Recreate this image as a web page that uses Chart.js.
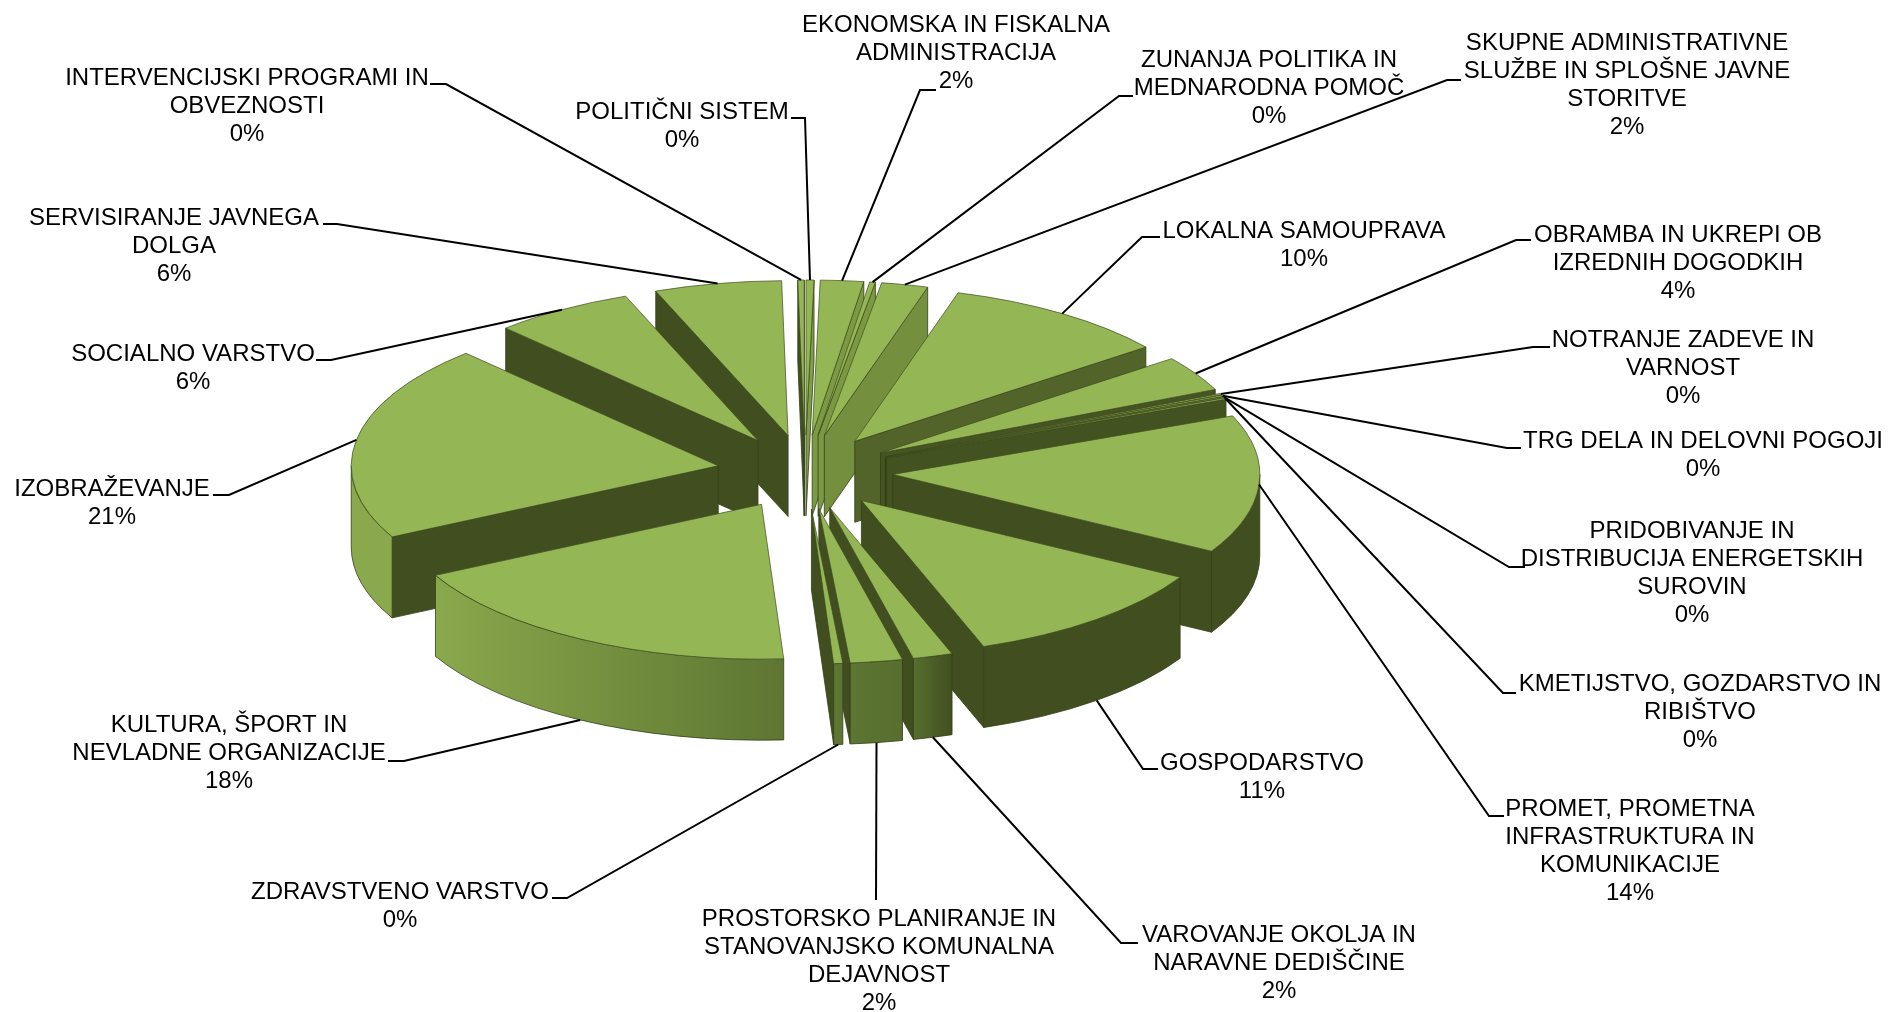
<!DOCTYPE html>
<html>
<head>
<meta charset="utf-8">
<title>Pie</title>
<script src="https://cdn.jsdelivr.net/npm/chart.js@4"></script>
<style>
  body { margin: 0; background: #fff; }
  canvas { display: block; }
</style>
</head>
<body>
<canvas id="myChart" width="1890" height="1012"></canvas>
<script>
// clockwise from 12 o'clock
const categories = [
    ["POLITIČNI SISTEM"],
    ["EKONOMSKA IN FISKALNA", "ADMINISTRACIJA"],
    ["ZUNANJA POLITIKA IN", "MEDNARODNA POMOČ"],
    ["SKUPNE ADMINISTRATIVNE", "SLUŽBE IN SPLOŠNE JAVNE", "STORITVE"],
    ["LOKALNA SAMOUPRAVA"],
    ["OBRAMBA IN UKREPI OB", "IZREDNIH DOGODKIH"],
    ["NOTRANJE ZADEVE IN", "VARNOST"],
    ["TRG DELA IN DELOVNI POGOJI"],
    ["PRIDOBIVANJE IN", "DISTRIBUCIJA ENERGETSKIH", "SUROVIN"],
    ["KMETIJSTVO, GOZDARSTVO IN", "RIBIŠTVO"],
    ["PROMET, PROMETNA", "INFRASTRUKTURA IN", "KOMUNIKACIJE"],
    ["GOSPODARSTVO"],
    ["VAROVANJE OKOLJA IN", "NARAVNE DEDIŠČINE"],
    ["PROSTORSKO PLANIRANJE IN", "STANOVANJSKO KOMUNALNA", "DEJAVNOST"],
    ["ZDRAVSTVENO VARSTVO"],
    ["KULTURA, ŠPORT IN", "NEVLADNE ORGANIZACIJE"],
    ["IZOBRAŽEVANJE"],
    ["SOCIALNO VARSTVO"],
    ["SERVISIRANJE JAVNEGA", "DOLGA"],
    ["INTERVENCIJSKI PROGRAMI IN", "OBVEZNOSTI"]
];
const values = [0.35, 1.9, 0.25, 2.05, 10.05, 3.7, 0.15, 0.15, 0.1, 0.15, 14.45, 11.35, 1.75, 2.3, 0.4, 18.4, 20.55, 6.2, 5.6, 0.28];

// label placement: text centre x, first line y, stub end at the text, elbow x, stub y
const labelBoxes = [
    [682, 111, 791, 805, 118],
    [956, 24, 936, 920, 90],
    [1269, 59, 1133, 1119, 96],
    [1627, 42, 1461, 1447, 80],
    [1304, 230, 1160, 1142, 237],
    [1678, 234, 1531, 1516, 240],
    [1683, 339, 1550, 1533, 347],
    [1703, 440, 1521, 1507, 448],
    [1692, 530, 1525, 1509, 567],
    [1700, 683, 1516, 1503, 693],
    [1630, 808, 1504, 1489, 816],
    [1262, 762, 1158, 1143, 769],
    [1279, 934, 1138, 1121, 943],
    [879, 918, 876, 876, 900],
    [400, 891, 552, 567, 898],
    [229, 724, 388, 404, 761],
    [112, 488, 213, 229, 495],
    [193, 353, 316, 331, 360],
    [174, 217, 323, 337, 224],
    [247, 77, 430, 446, 84]
];

const SQUASH = 0.422;
const DEPTH = 81;
const EXPLODE = 88;
const DARK = [65, 79, 32];

function mix(a, b, t) {
    t = Math.max(0, Math.min(1, t));
    let c = a.map((v, i) => Math.round(v + (b[i] - v) * t));
    return "rgb(" + c.join(",") + ")";
}

function toClock(a) {
    let d = (a * 180 / Math.PI + 90) % 360;
    return d < 0 ? d + 360 : d;
}

// outer wall colour depending on where it sits on the rim
function rimColor(d) {
    if (d <= 161) return mix(DARK, DARK, 0);
    return mix([86, 109, 46], [138, 168, 76], (d - 165) / 78);
}

// flat side colour
function wallColor(d) {
    if (d > 90 ) return mix(DARK, DARK, 0);
    return mix([127, 158, 69], DARK, (d - 5) / 65);
}

function apexOf(arc) {
    let mid = (arc.startAngle + arc.endAngle) / 2;
    return {
        x: arc.x + Math.cos(mid) * EXPLODE,
        y: arc.y + Math.sin(mid) * EXPLODE * SQUASH
    };
}

function drawWall(ctx, arc, angle) {
    let p = apexOf(arc);
    let rx = p.x + Math.cos(angle) * arc.outerRadius;
    let ry = p.y + Math.sin(angle) * arc.outerRadius * SQUASH;
    ctx.beginPath();
    ctx.moveTo(p.x, p.y);
    ctx.lineTo(rx, ry);
    ctx.lineTo(rx, ry + DEPTH);
    ctx.lineTo(p.x, p.y + DEPTH);
    ctx.closePath();
    ctx.fillStyle = wallColor(toClock(angle));
    ctx.fill();
    ctx.stroke();
}

function drawRim(ctx, arc) {
    // only the part of the rim facing the viewer, canvas angles 0..PI
    let a0 = arc.startAngle;
    let a1 = arc.endAngle;
    if (a0 < 0 && a1 > 0) a0 = 0;
    if (a0 < 0) return;
    if (a0 >= Math.PI) return;
    if (a1 > Math.PI) a1 = Math.PI;

    let p = apexOf(arc);
    let r = arc.outerRadius;
    let x0 = p.x + Math.cos(a0) * r;
    let x1 = p.x + Math.cos(a1) * r;
    let grad = ctx.createLinearGradient(x0, 0, x1, 0);
    grad.addColorStop(0, rimColor(toClock(a0)));
    grad.addColorStop(1, rimColor(toClock(a1)));

    ctx.beginPath();
    ctx.ellipse(p.x, p.y, r, r * SQUASH, 0, a0, a1);
    ctx.ellipse(p.x, p.y + DEPTH, r, r * SQUASH, 0, a1, a0, true);
    ctx.closePath();
    ctx.fillStyle = grad;
    ctx.fill();
    ctx.stroke();
}

function drawTop(ctx, arc) {
    let mid = (arc.startAngle + arc.endAngle) / 2;
    ctx.save();
    ctx.translate(arc.x, arc.y);
    ctx.scale(1, SQUASH);
    ctx.translate(-arc.x, -arc.y);
    ctx.translate(Math.cos(mid) * EXPLODE, Math.sin(mid) * EXPLODE);
    arc.draw(ctx);
    ctx.restore();
}

const pie3d = {
    id: "pie3d",
    beforeDatasetsDraw(chart) {
        let ctx = chart.ctx;
        let arcs = chart.getDatasetMeta(0).data.slice();

        // back slices first
        arcs.sort(function (a, b) {
            let da = Math.abs(toClock((a.startAngle + a.endAngle) / 2) - 180);
            let db = Math.abs(toClock((b.startAngle + b.endAngle) / 2) - 180);
            return db - da;
        });

        ctx.save();
        ctx.strokeStyle = "#333f17";
        ctx.lineWidth = 0.8;
        ctx.lineJoin = "round";
        arcs.forEach(function (arc) {
            let ds = toClock(arc.startAngle);
            let de = toClock(arc.endAngle);
            if (ds > 180) drawWall(ctx, arc, arc.startAngle);
            if (de < 180) drawWall(ctx, arc, arc.endAngle);
            drawRim(ctx, arc);
            drawTop(ctx, arc);
        });
        ctx.restore();
        return false;
    },
    afterDraw(chart) {
        let ctx = chart.ctx;
        let arcs = chart.getDatasetMeta(0).data;

        ctx.save();
        ctx.font = "24px 'Liberation Sans'";
        ctx.textAlign = "center";
        ctx.textBaseline = "middle";
        ctx.fillStyle = "#000";
        ctx.strokeStyle = "#000";
        ctx.lineWidth = 2;

        arcs.forEach(function (arc, i) {
            let box = labelBoxes[i];
            let mid = (arc.startAngle + arc.endAngle) / 2;
            let d = toClock(mid);
            let p = apexOf(arc);
            let ax = p.x + Math.cos(mid) * arc.outerRadius;
            let ay = p.y + Math.sin(mid) * arc.outerRadius * SQUASH;
            if (d > 100 && d < 260) ay += DEPTH;

            ctx.beginPath();
            ctx.moveTo(ax, ay);
            ctx.lineTo(box[3], box[4]);
            ctx.lineTo(box[2], box[4]);
            ctx.stroke();

            let lines = categories[i].concat(Math.round(values[i]) + "%");
            lines.forEach(function (line, n) {
                ctx.fillText(line, box[0], box[1] + 1.5 + n * 27.8);
            });
        });
        ctx.restore();
    }
};

let myChart = document.getElementById("myChart");
new Chart(myChart, {
    type: "pie",
    data: {
        labels: categories,
        datasets: [{
            data: values,
            backgroundColor: "#94b655",
            borderColor: "#3f4d1e",
            borderWidth: 1
        }]
    },
    options: {
        responsive: false,
        animation: false,
        radius: 367,
        layout: { padding: { right: 280, bottom: 68 } },
        plugins: { legend: { display: false }, tooltip: { enabled: false } }
    },
    plugins: [pie3d]
});
</script>
</body>
</html>
